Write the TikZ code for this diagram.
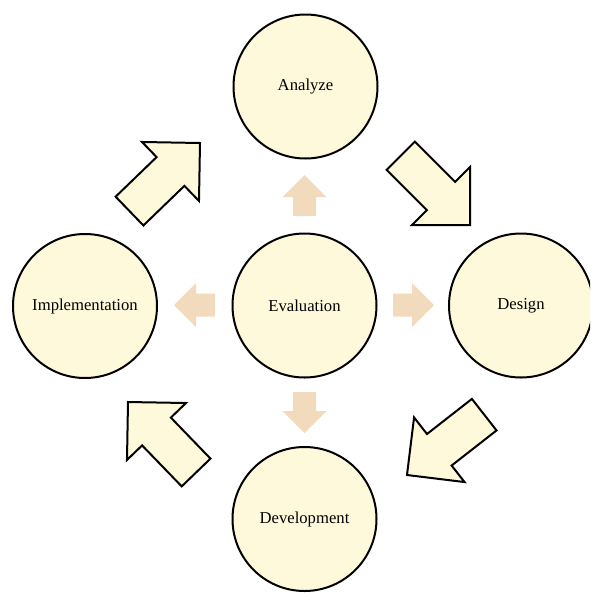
\documentclass[tikz,border=0pt]{standalone}
\usepackage{fontspec}
\setmainfont{Liberation Serif}

\definecolor{phasefill}{RGB}{255,249,219}
\definecolor{evalarrowfill}{RGB}{242,218,188}

\tikzset{every picture/.style={line width=0.75pt}}
\tikzset{
  phase/.style={circle, draw=black, line width=1.5pt, fill=phasefill,
    minimum size=108pt, inner sep=0pt, font=\fontsize{12.5}{14}\selectfont},
  % outlined block arrow, tip at the origin, pointing along +x
  pics/cyclearrow/.style={code={
    \draw [line width=1.5pt, fill=phasefill] (0,0) -- (-41,-41) -- (-41,-20) -- (-98,-20) -- (-98,20) -- (-41,20) -- (-41,41) -- cycle ;
  }},
  % small filled arrow out of the centre
  pics/evalarrow/.style={code={
    \fill [evalarrowfill] (0,0) -- (-22,-22) -- (-22,-11.5) -- (-41,-11.5) -- (-41,11.5) -- (-22,11.5) -- (-22,22) -- cycle ;
  }}
}

\begin{document}
\begin{tikzpicture}[x=0.75pt,y=0.75pt,yscale=-1,xscale=1]
\clip (0,0) rectangle (590,593);

%Phases
\node [phase] (analyze) at (305.5,86.5) {Analyze};
\node [phase] (evaluation) at (304.5,305.5) {Evaluation};
\node [phase] (implementation) at (85,306) {Implementation};
\node [phase] (design) at (521,305.5) {Design};
\node [phase] (development) at (304.5,519) {Development};

%Arrows round the cycle
\pic [rotate=44] at (200,143) {cyclearrow};
\pic [rotate=-45] at (470,225) {cyclearrow};
\pic [rotate=-142] at (407,475) {cyclearrow};
\pic [rotate=134] at (128,402) {cyclearrow};

%Arrows out of Evaluation
\pic [rotate=90] at (304.5,175) {evalarrow};
\pic [rotate=0] at (434,305) {evalarrow};
\pic [rotate=-90] at (304.5,433) {evalarrow};
\pic [rotate=180] at (174,305) {evalarrow};

\end{tikzpicture}
\end{document}
